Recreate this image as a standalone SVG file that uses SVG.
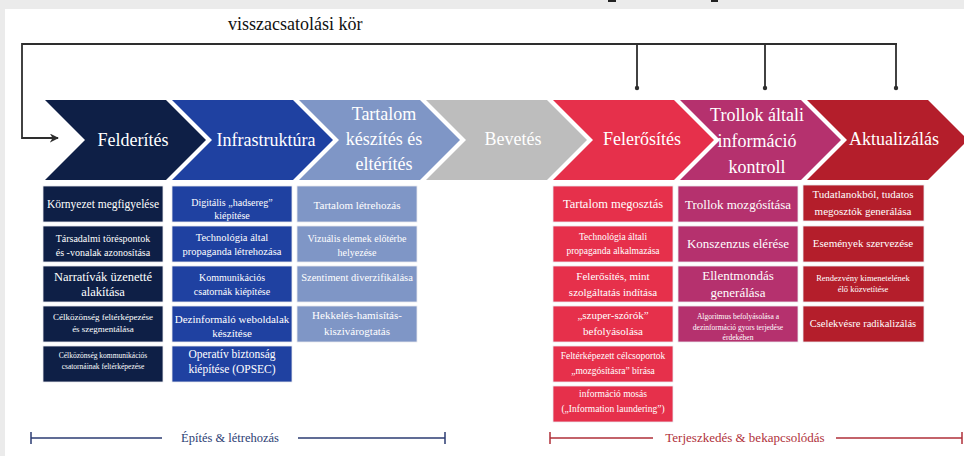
<svg xmlns="http://www.w3.org/2000/svg" width="964" height="456" viewBox="0 0 964 456" font-family="'Liberation Serif', 'DejaVu Serif', serif">
<style>
text{font-family:'Liberation Serif','DejaVu Serif','Times New Roman',serif;fill:#fff;text-anchor:middle}
.title{fill:#111;text-anchor:start;font-size:18px}
.chev{font-size:18px}
.fb{fill:none;stroke:#2e2e2e;stroke-width:1.8}
.c1{fill:#0e1f46}.c2{fill:#1f41a1}.c3{fill:#7f96c6}.c4{fill:#bdbdbd}.c5{fill:#e6304b}.c6{fill:#b5316e}.c7{fill:#b41e2b}
.b{stroke:#e9e9ee;stroke-width:0.8}
.blue{stroke:#2c3d73;stroke-width:1.5;fill:none}
.red{stroke:#b0303a;stroke-width:1.5;fill:none}
</style>
<defs>
<marker id="ah" viewBox="0 0 10 10" refX="9" refY="5" markerWidth="9" markerHeight="9" markerUnits="userSpaceOnUse" orient="auto">
<path d="M0,0 L10,5 L0,10 L3,5 Z" fill="#2e2e2e"/>
</marker>
<path id="chev" d="M0,100 L121,100 L161,140 L121,180 L0,180 L40,140 Z"/>
</defs>
<rect x="0" y="0" width="964" height="456" fill="#ebebeb"/>
<rect x="5" y="9" width="959" height="447" fill="#ffffff"/>
<rect x="608" y="0" width="8" height="2" fill="#222"/>
<rect x="711" y="0" width="7" height="2" fill="#222"/>

<text class="title" x="228" y="30">visszacsatolási kör</text>

<g id="connectors">
<path class="fb" d="M897,44 L22,44 L22,138 L58,138" marker-end="url(#ah)"/>
<path class="fb" d="M637,44 L637,88 M765,44 L765,88 M896,44 L896,88"/>
<circle cx="637" cy="88" r="2.2" fill="#2e2e2e"/>
<circle cx="765" cy="88" r="2.2" fill="#2e2e2e"/>
<circle cx="896" cy="88" r="2.2" fill="#2e2e2e"/>
</g>

<g id="felderites">
<use href="#chev" x="45" class="c1"/>
<text class="chev" x="133" y="146">Felderítés</text>
<rect class="c1 b" x="43" y="186" width="120" height="36"/>
<text x="103" y="208" font-size="11.5">Környezet megfigyelése</text>
<rect class="c1 b" x="43" y="226" width="120" height="36"/>
<text x="103" y="242" font-size="10">Társadalmi töréspontok</text>
<text x="103" y="256" font-size="10">és -vonalak azonosítása</text>
<rect class="c1 b" x="43" y="266" width="120" height="36"/>
<text x="103" y="281" font-size="12.5">Narratívák üzenetté</text>
<text x="103" y="296" font-size="12.5">alakítása</text>
<rect class="c1 b" x="43" y="306" width="120" height="36"/>
<text x="103" y="320" font-size="9">Célközönség feltérképezése</text>
<text x="103" y="332" font-size="9">és szegmentálása</text>
<rect class="c1 b" x="43" y="346" width="120" height="36"/>
<text x="103" y="358" font-size="7.5">Célközönség kommunikációs</text>
<text x="103" y="369" font-size="7.5">csatornáinak feltérképezése</text>
</g>

<g id="infrastruktura">
<use href="#chev" x="172" class="c2"/>
<text class="chev" x="266" y="146">Infrastruktúra</text>
<rect class="c2 b" x="172" y="186" width="120" height="36"/>
<text x="232" y="206" font-size="10">Digitális „hadsereg”</text>
<text x="232" y="219" font-size="10">kiépítése</text>
<rect class="c2 b" x="172" y="226" width="120" height="36"/>
<text x="232" y="241" font-size="10.5">Technológia által</text>
<text x="232" y="255" font-size="10.5">propaganda létrehozása</text>
<rect class="c2 b" x="172" y="266" width="120" height="36"/>
<text x="232" y="281" font-size="10">Kommunikációs</text>
<text x="232" y="295" font-size="10">csatornák kiépítése</text>
<rect class="c2 b" x="172" y="306" width="120" height="36"/>
<text x="232" y="323" font-size="11">Dezinformáló weboldalak</text>
<text x="232" y="337" font-size="11">készítése</text>
<rect class="c2 b" x="172" y="346" width="120" height="36"/>
<text x="232" y="358" font-size="11.5">Operatív biztonság</text>
<text x="232" y="373" font-size="11.5">kiépítése (OPSEC)</text>
</g>

<g id="tartalom">
<use href="#chev" x="299" class="c3"/>
<text class="chev" x="384" y="120">Tartalom</text>
<text class="chev" x="384" y="145">készítés és</text>
<text class="chev" x="384" y="170">eltérítés</text>
<rect class="c3 b" x="297" y="186" width="120" height="36"/>
<text x="357" y="209" font-size="11">Tartalom létrehozás</text>
<rect class="c3 b" x="297" y="226" width="120" height="36"/>
<text x="357" y="242" font-size="10">Vizuális elemek előtérbe</text>
<text x="357" y="256" font-size="10">helyezése</text>
<rect class="c3 b" x="297" y="266" width="120" height="36"/>
<text x="357" y="281" font-size="10.5">Szentiment diverzifikálása</text>
<rect class="c3 b" x="297" y="306" width="120" height="36"/>
<text x="357" y="319" font-size="11">Hekkelés-hamisítás-</text>
<text x="357" y="335" font-size="11">kiszivárogtatás</text>
</g>

<g id="bevetes">
<use href="#chev" x="426" class="c4"/>
<text class="chev" x="513" y="145">Bevetés</text>
</g>

<g id="felerosites">
<use href="#chev" x="553" class="c5"/>
<text class="chev" x="642" y="145">Felerősítés</text>
<rect class="c5 b" x="553" y="186" width="120" height="36"/>
<text x="613" y="208" font-size="12.5">Tartalom megosztás</text>
<rect class="c5 b" x="553" y="226" width="120" height="36"/>
<text x="613" y="240" font-size="9.5">Technológia általi</text>
<text x="613" y="254" font-size="9.5">propaganda alkalmazása</text>
<rect class="c5 b" x="553" y="266" width="120" height="36"/>
<text x="613" y="280" font-size="11">Felerősítés, mint</text>
<text x="613" y="296" font-size="11">szolgáltatás indítása</text>
<rect class="c5 b" x="553" y="306" width="120" height="36"/>
<text x="613" y="319" font-size="11">„szuper-szórók”</text>
<text x="613" y="335" font-size="11">befolyásolása</text>
<rect class="c5 b" x="553" y="346" width="120" height="36"/>
<text x="613" y="359" font-size="9.5">Feltérképezett célcsoportok</text>
<text x="613" y="374" font-size="9.5">„mozgósításra” bírása</text>
<rect class="c5 b" x="553" y="386" width="120" height="36"/>
<text x="613" y="397" font-size="9.5">információ mosás</text>
<text x="613" y="412" font-size="9.5">(„Information laundering”)</text>
</g>

<g id="trollok">
<use href="#chev" x="680" class="c6"/>
<text class="chev" x="757" y="121">Trollok általi</text>
<text class="chev" x="757" y="147">információ</text>
<text class="chev" x="757" y="173">kontroll</text>
<rect class="c6 b" x="678" y="186" width="120" height="36"/>
<text x="738" y="209" font-size="13">Trollok mozgósítása</text>
<rect class="c6 b" x="678" y="226" width="120" height="36"/>
<text x="738" y="248" font-size="13">Konszenzus elérése</text>
<rect class="c6 b" x="678" y="266" width="120" height="36"/>
<text x="738" y="280" font-size="13">Ellentmondás</text>
<text x="738" y="297" font-size="13">generálása</text>
<rect class="c6 b" x="678" y="306" width="120" height="36"/>
<text x="738" y="319" font-size="7.5">Algoritmus befolyásolása a</text>
<text x="738" y="330" font-size="7.5">dezinformáció gyors terjedése</text>
<text x="738" y="340" font-size="7.5">érdekében</text>
</g>

<g id="aktualizalas">
<use href="#chev" x="807" class="c7"/>
<text class="chev" x="894" y="145">Aktualizálás</text>
<rect class="c7 b" x="803" y="185" width="121" height="36"/>
<text x="863" y="198" font-size="11">Tudatlanokból, tudatos</text>
<text x="863" y="215" font-size="11">megosztók generálása</text>
<rect class="c7 b" x="803" y="226" width="121" height="36"/>
<text x="863" y="247" font-size="11">Események szervezése</text>
<rect class="c7 b" x="803" y="266" width="121" height="36"/>
<text x="863" y="281" font-size="8.5">Rendezvény kimenetelének</text>
<text x="863" y="292" font-size="8.5">élő közvetítése</text>
<rect class="c7 b" x="803" y="306" width="121" height="36"/>
<text x="863" y="327" font-size="10.5">Cselekvésre radikalizálás</text>
</g>

<g id="phase-build">
<path class="blue" d="M31,432 L31,444 M31,438 L162,438 M298,438 L445,438 M445,432 L445,444"/>
<text x="230" y="442" font-size="12.5" style="fill:#2c3d73">Építés &amp; létrehozás</text>
</g>
<g id="phase-spread">
<path class="red" d="M550,432 L550,444 M550,438 L653,438 M836,438 L962,438 M962,432 L962,444"/>
<text x="745" y="442" font-size="13" style="fill:#b0303a">Terjeszkedés &amp; bekapcsolódás</text>
</g>
</svg>
